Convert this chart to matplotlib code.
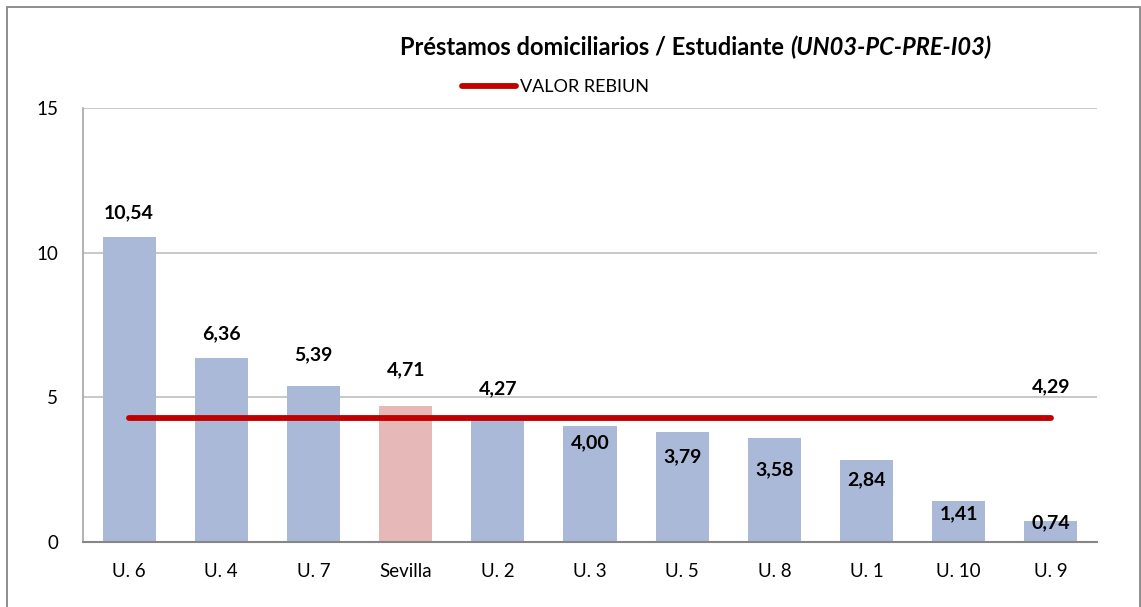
import matplotlib.pyplot as plt
from matplotlib.lines import Line2D
from matplotlib.patches import Rectangle

plt.rcParams['font.family'] = ['Lato', 'DejaVu Sans']

# Datos
universidades = ['U. 6', 'U. 4', 'U. 7', 'Sevilla', 'U. 2', 'U. 3', 'U. 5', 'U. 8', 'U. 1', 'U. 10', 'U. 9']
prestamos = [10.54, 6.36, 5.39, 4.71, 4.27, 4.00, 3.79, 3.58, 2.84, 1.41, 0.74]
valor_rebiun = 4.29

# desplazamiento vertical de cada etiqueta (pixeles)
desplaz = [24, 24, 31, 36, 30, -16, -24, -31, -20, -13, -2]

azul = '#AAB9D7'
rosa = '#E6B9B8'
rojo = '#C00000'

fig = plt.figure(figsize=(11.41, 6.07), dpi=100)
ax = fig.add_axes([83 / 1141, 65 / 607, 1014 / 1141, 434 / 607])

x = list(range(len(universidades)))
colores = [rosa if u == 'Sevilla' else azul for u in universidades]
ax.bar(x, prestamos, width=0.575, color=colores, zorder=2)

ax.plot([x[0], x[-1]], [valor_rebiun, valor_rebiun], color=rojo, lw=4.2,
        solid_capstyle='round', zorder=3)

for xi, v, d in zip(x, prestamos, desplaz):
    ax.annotate(f'{v:.2f}'.replace('.', ','), (xi, v), xytext=(0, d),
                textcoords='offset pixels', ha='center', va='center',
                fontsize=14, fontweight='bold', zorder=4)
ax.annotate(f'{valor_rebiun:.2f}'.replace('.', ','), (x[-1], valor_rebiun),
            xytext=(0, 31), textcoords='offset pixels', ha='center',
            va='center', fontsize=14, fontweight='bold', zorder=4)

ax.set_xlim(-0.5, len(x) - 0.5)
ax.set_ylim(0, 15)
ax.set_yticks([0, 5, 10, 15])
ax.set_xticks(x)
ax.set_xticklabels(universidades)
ax.tick_params(axis='both', length=0, labelsize=13.5, colors='black')
ax.tick_params(axis='x', pad=15)
ax.tick_params(axis='y', pad=18)
ax.grid(axis='y', color='#BFBFBF', lw=1.2, zorder=0)
for s in ['top', 'right']:
    ax.spines[s].set_visible(False)
ax.spines['left'].set_color('#A6A6A6')
ax.spines['left'].set_linewidth(1.2)
ax.spines['bottom'].set_color('#868686')
ax.spines['bottom'].set_linewidth(1.5)
ax.spines['bottom'].set_zorder(5)

# titulo en dos partes (normal + cursiva)
t1 = fig.text(400 / 1141, 1 - 47 / 607, 'Préstamos domiciliarios / Estudiante ',
              fontsize=17, fontweight='bold', ha='left', va='center')
fig.canvas.draw()
bb = t1.get_window_extent()
fig.text(bb.x1 / fig.bbox.width, 1 - 47 / 607, '(UN03-PC-PRE-I03)',
         fontsize=17, fontweight='bold', style='italic', ha='left', va='center')

# leyenda
h = Line2D([], [], color=rojo, lw=4.2, solid_capstyle='round')
fig.legend(handles=[h], labels=['VALOR REBIUN'], loc='center left',
           bbox_to_anchor=(462 / 1141, 1 - 87 / 607), frameon=False,
           fontsize=13, handlelength=3.0, handletextpad=0.2,
           borderpad=0, borderaxespad=0)

# borde del grafico
fig.patches.append(Rectangle((6.5 / 1141, -0.05), (1140 - 6.5) / 1141, 1.05 - 6.5 / 607,
                             transform=fig.transFigure, fill=False,
                             edgecolor='#868686', lw=1.3))

fig.savefig('out.png', dpi=100)
